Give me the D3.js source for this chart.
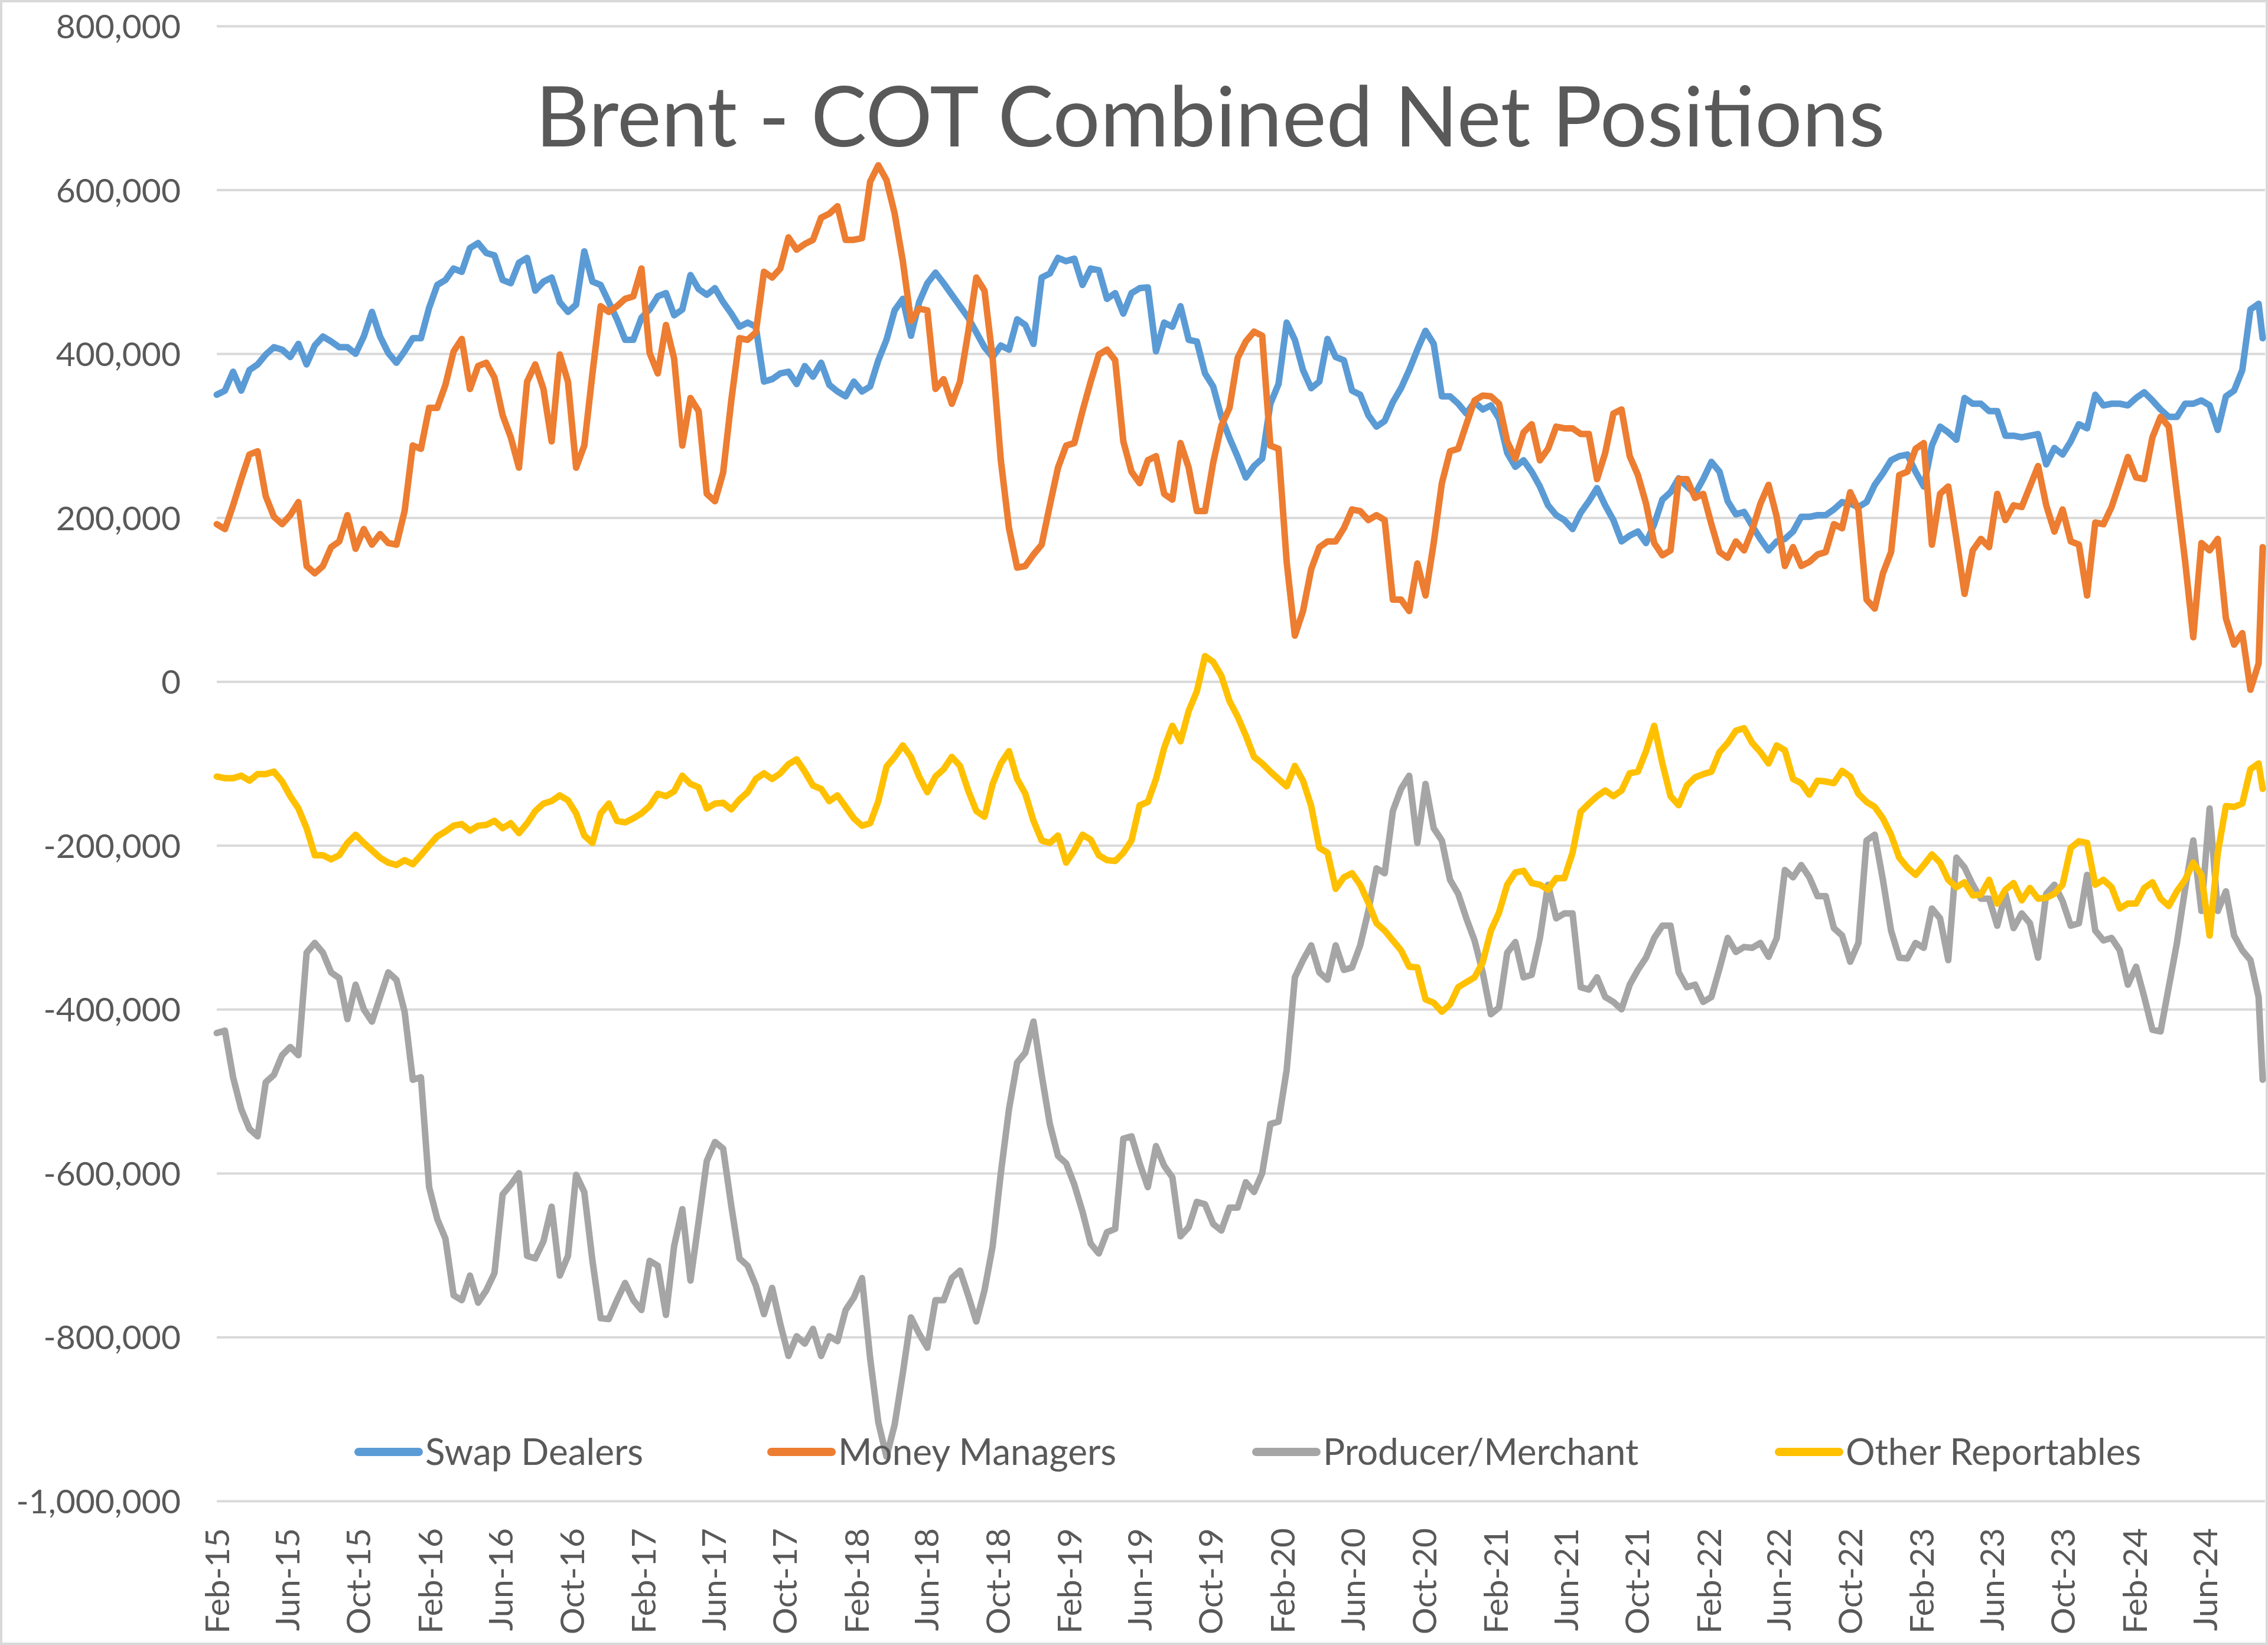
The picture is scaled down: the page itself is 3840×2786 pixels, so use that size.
<!DOCTYPE html>
<html><head><meta charset="utf-8">
<script src="https://cdn.jsdelivr.net/npm/d3@7"></script>
<style>html,body{margin:0;padding:0;background:#fff;} svg{display:block;}</style>
</head><body>
<svg id="chart" width="3840" height="2786"></svg>
<script>
// ---------- DATA (values in thousands of contracts) ----------
const seriesNames = ["Swap Dealers", "Money Managers", "Producer/Merchant", "Other Reportables"];
const startDate = new Date(Date.UTC(2015, 1, 3));          // first report, Feb-15
const weekIndex = d3.range(0, 501, 2).concat([501]);        // biweekly samples + last week
const dates = weekIndex.map(w => d3.utcDay.offset(startDate, 7 * w));

const swapDealers = [
 350,355,378,355,380,387,399,408,405,396,
 412,387,410,421,415,408,408,400,421,451,
 421,401,389,403,419,419,456,484,490,504,
 500,529,535,523,520,490,486,511,517,477,
 488,493,463,451,460,525,488,484,463,442,
 417,417,444,454,470,474,447,454,496,479,
 472,480,463,449,433,438,433,366,369,376,
 378,363,385,372,389,362,354,348,366,354,
 360,392,417,453,467,422,463,486,499,486,
 472,458,444,426,408,396,410,405,442,435,
 412,493,498,517,513,516,484,504,502,467,
 474,449,474,480,481,403,438,433,458,417,
 415,376,360,323,297,274,249,263,272,339,
 363,438,417,380,358,366,418,396,392,355,
 350,325,311,318,341,358,380,405,428,412,
 348,348,339,327,341,332,337,321,279,262,
 270,256,238,215,203,197,186,206,220,236,
 215,197,171,178,183,169,192,222,231,248,
 238,229,247,268,256,220,204,207,190,174,
 160,171,174,183,201,201,203,203,210,219,
 217,213,219,240,254,270,275,277,256,238,
 288,311,304,295,346,339,339,330,330,300,
 300,298,300,302,265,285,277,293,314,309,
 350,337,339,339,337,346,353,343,332,323,
 323,339,339,343,337,307,348,355,380,454,
 461,419];

const moneyManagers = [
 192,186,215,247,277,281,226,201,192,203,
 219,141,132,141,164,171,203,162,186,167,
 180,169,167,208,288,284,334,334,362,403,
 418,357,385,389,371,325,298,261,366,387,
 357,293,399,366,261,288,376,458,451,458,
 467,470,504,401,376,435,394,288,346,330,
 229,220,255,343,419,417,426,500,493,504,
 542,527,534,539,566,571,580,539,539,541,
 610,630,612,571,513,440,455,453,357,369,
 339,366,426,493,477,394,270,187,139,141,
 155,167,215,261,288,291,330,366,399,405,
 392,293,256,242,270,275,229,222,291,261,
 208,208,267,312,334,395,415,427,422,288,
 284,146,56,86,137,164,171,171,187,210,
 208,197,203,197,100,100,86,144,105,169,
 242,281,284,314,343,349,348,339,293,272,
 304,314,270,284,311,309,309,302,302,247,
 279,327,332,275,252,217,169,154,160,247,
 247,224,229,192,158,151,171,160,185,217,
 240,201,141,164,141,146,155,158,192,187,
 231,210,100,89,132,158,252,256,284,291,
 167,229,238,174,107,160,174,164,229,197,
 215,213,238,263,215,183,210,171,167,105,
 194,192,213,243,274,249,247,298,323,311,
 229,147,54,169,160,174,77,45,59,-10,
 22,164];

const producerMerchant = [
 -429,-426,-483,-522,-546,-555,-489,-480,-456,-446,
 -456,-331,-319,-331,-355,-362,-412,-370,-400,-415,
 -385,-355,-364,-403,-486,-483,-617,-656,-680,-749,
 -755,-725,-758,-743,-722,-626,-614,-600,-701,-704,
 -683,-641,-725,-701,-602,-623,-707,-777,-778,-755,
 -734,-755,-767,-707,-713,-773,-689,-644,-731,-659,
 -585,-562,-570,-640,-704,-713,-737,-772,-740,-784,
 -823,-799,-808,-790,-823,-799,-805,-767,-752,-728,
 -826,-904,-946,-907,-844,-776,-796,-813,-755,-755,
 -728,-719,-749,-781,-743,-689,-600,-522,-465,-453,
 -415,-480,-540,-579,-588,-614,-647,-686,-698,-672,
 -668,-558,-555,-588,-617,-567,-591,-605,-677,-666,
 -635,-638,-662,-670,-642,-642,-611,-623,-600,-540,
 -537,-474,-361,-340,-322,-355,-364,-322,-352,-349,
 -322,-280,-228,-234,-158,-131,-115,-197,-125,-179,
 -194,-242,-259,-289,-316,-355,-406,-398,-331,-318,
 -361,-358,-313,-248,-289,-283,-283,-373,-376,-361,
 -385,-391,-400,-370,-352,-337,-313,-298,-298,-355,
 -373,-370,-391,-385,-350,-313,-330,-324,-325,-319,
 -336,-313,-230,-239,-224,-239,-262,-262,-301,-310,
 -342,-319,-194,-187,-242,-304,-337,-338,-319,-325,
 -277,-289,-340,-215,-227,-248,-265,-265,-298,-259,
 -301,-283,-295,-337,-259,-248,-268,-298,-295,-236,
 -304,-316,-313,-328,-370,-348,-385,-425,-427,-373,
 -319,-253,-194,-280,-155,-280,-256,-310,-328,-340,
 -385,-486];

const otherReportables = [
 -116,-118,-118,-115,-121,-113,-113,-110,-122,-140,
 -155,-179,-212,-212,-217,-212,-197,-187,-197,-206,
 -215,-221,-224,-218,-223,-212,-200,-189,-183,-176,
 -174,-182,-176,-175,-170,-179,-173,-185,-173,-158,
 -149,-146,-139,-145,-161,-188,-197,-161,-149,-170,
 -172,-167,-161,-152,-137,-140,-134,-115,-125,-129,
 -155,-149,-148,-156,-144,-135,-119,-112,-119,-112,
 -101,-95,-110,-127,-131,-146,-139,-153,-167,-176,
 -173,-146,-104,-92,-78,-92,-116,-135,-116,-107,
 -92,-103,-133,-158,-165,-125,-100,-85,-119,-137,
 -170,-194,-197,-188,-221,-206,-187,-193,-212,-218,
 -219,-209,-194,-151,-147,-119,-81,-54,-73,-36,
 -12,31,24,7,-24,-43,-66,-92,-100,-110,
 -119,-128,-103,-121,-152,-203,-209,-253,-239,-234,
 -248,-270,-295,-304,-316,-328,-348,-349,-388,-392,
 -403,-394,-373,-367,-361,-343,-304,-282,-248,-233,
 -231,-246,-248,-254,-240,-240,-209,-159,-149,-140,
 -133,-140,-133,-112,-110,-85,-54,-100,-140,-151,
 -127,-117,-113,-110,-86,-75,-60,-57,-75,-86,
 -100,-78,-84,-119,-124,-138,-121,-122,-124,-109,
 -116,-137,-147,-153,-167,-187,-215,-227,-236,-224,
 -211,-221,-242,-251,-245,-261,-260,-242,-271,-254,
 -246,-267,-252,-265,-264,-259,-248,-203,-195,-197,
 -248,-242,-251,-277,-271,-271,-252,-245,-265,-274,
 -256,-242,-221,-236,-310,-209,-152,-153,-149,-107,
 -100,-131];

const yTickValues = [800000, 600000, 400000, 200000, 0, -200000, -400000, -600000, -800000, -1000000];
const xTickLabels = ["Feb-15","Jun-15","Oct-15","Feb-16","Jun-16","Oct-16","Feb-17","Jun-17","Oct-17",
 "Feb-18","Jun-18","Oct-18","Feb-19","Jun-19","Oct-19","Feb-20","Jun-20","Oct-20","Feb-21","Jun-21",
 "Oct-21","Feb-22","Jun-22","Oct-22","Feb-23","Jun-23","Oct-23","Feb-24","Jun-24"];
const titleText = "Brent - COT Combined Net Positions";

// ---------- STYLE / LAYOUT ----------
const colors = ["#5B9BD5", "#ED7D31", "#A5A5A5", "#FFC000"];
const textColor = "#595959";
const gridColor = "#D9D9D9";
const fontFam = "Lato, 'Open Sans', 'Liberation Sans', sans-serif";
const W = 3840, H = 2786;
const plot = {left: 367, right: 3835, dataRight: 3831, top: 44, bottom: 2542};

const svg = d3.select("#chart");
svg.append("rect").attr("x", 0).attr("y", 0).attr("width", W).attr("height", H).attr("fill", "#fff");
svg.append("rect").attr("x", 2).attr("y", 2).attr("width", W - 4).attr("height", H - 4)
  .attr("fill", "none").attr("stroke", gridColor).attr("stroke-width", 4);

const x = d3.scaleUtc().domain([dates[0], dates[dates.length - 1]]).range([plot.left, plot.dataRight]);
const y = d3.scaleLinear().domain([-1000000, 800000]).range([plot.bottom, plot.top]);

const locale = d3.formatLocale({decimal: ".", thousands: ",", grouping: [3], currency: ["", ""], minus: "-"});
const fmt = locale.format(",");

// gridlines + y labels
const yAxis = d3.axisLeft(y).tickValues(yTickValues).tickSize(-(plot.right - plot.left)).tickFormat(fmt).tickPadding(61);
const gy = svg.append("g").attr("transform", `translate(${plot.left},0)`).call(yAxis);
gy.select(".domain").remove();
gy.selectAll(".tick line").attr("stroke", gridColor).attr("stroke-width", 4);
gy.selectAll(".tick text").attr("fill", textColor).attr("font-family", fontFam).attr("font-size", 57)
  .attr("dy", "0.36em");

// x axis labels (rotated)
const tickDates = xTickLabels.map((_, i) => d3.utcMonth.offset(startDate, 4 * i));
const xAxis = d3.axisBottom(x).tickValues(tickDates).tickSize(0)
  .tickFormat((d, i) => xTickLabels[i]);
const gx = svg.append("g").attr("transform", `translate(0,${plot.bottom})`).call(xAxis);
gx.select(".domain").remove();
gx.selectAll(".tick text")
  .attr("fill", textColor).attr("font-family", fontFam).attr("font-size", 57)
  .attr("text-anchor", "end")
  .attr("transform", "translate(0,46) rotate(-90)")
  .attr("x", 0).attr("y", 0).attr("dy", "0.36em");

// series lines
const allSeries = [swapDealers, moneyManagers, producerMerchant, otherReportables];
const line = d3.line().x((d, i) => x(dates[i])).y(d => y(d * 1000)).curve(d3.curveLinear);
allSeries.forEach((vals, si) => {
  svg.append("path").datum(vals)
    .attr("d", line)
    .attr("fill", "none")
    .attr("stroke", colors[si])
    .attr("stroke-width", 11)
    .attr("stroke-linejoin", "round")
    .attr("stroke-linecap", "round");
});

// title
const title = svg.append("text").text(titleText)
  .attr("x", 2049).attr("y", 248).attr("text-anchor", "middle")
  .attr("fill", textColor).attr("font-family", fontFam).attr("font-size", 140);
const tw = title.node().getComputedTextLength();
title.attr("font-size", Math.max(120, Math.min(160, 140 * 2285 / tw)));

// legend
const legendX = [600, 1299, 2120, 3005];
const legendY = 2459;
seriesNames.forEach((name, i) => {
  const g = svg.append("g");
  g.append("line").attr("x1", legendX[i] + 7).attr("x2", legendX[i] + 109)
    .attr("y1", legendY).attr("y2", legendY)
    .attr("stroke", colors[i]).attr("stroke-width", 14).attr("stroke-linecap", "round");
  g.append("text").text(name).attr("x", legendX[i] + 120).attr("y", legendY).attr("dy", "0.36em")
    .attr("fill", textColor).attr("font-family", fontFam).attr("font-size", 62);
});
</script>
</body></html>
